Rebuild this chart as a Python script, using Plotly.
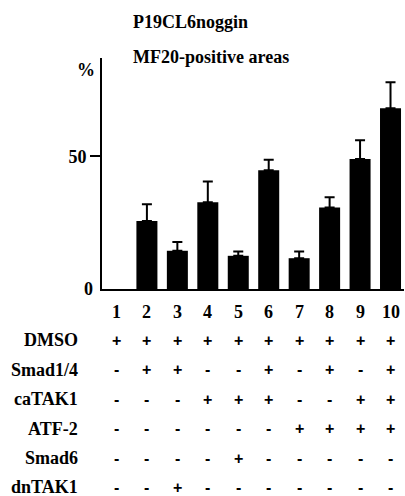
import plotly.graph_objects as go

lanes = [1, 2, 3, 4, 5, 6, 7, 8, 9, 10]
values = [0, 25.6, 14.4, 32.7, 12.5, 44.7, 11.6, 30.7, 49.0, 68.1]
err_up = [None, 6.3, 3.3, 7.8, 1.6, 4.0, 2.5, 3.9, 7.0, 9.8]
ytick_vals = [0, 50]
ytick_text = ["0", "50"]
conditions = ["DMSO", "Smad1/4", "caTAK1", "ATF-2", "Smad6", "dnTAK1"]
DMSO = ["+", "+", "+", "+", "+", "+", "+", "+", "+", "+"]
Smad14 = ["-", "+", "+", "-", "-", "+", "-", "+", "-", "+"]
caTAK1 = ["-", "-", "-", "+", "+", "+", "-", "-", "+", "+"]
ATF2 = ["-", "-", "-", "-", "-", "-", "+", "+", "+", "+"]
Smad6 = ["-", "-", "-", "-", "+", "-", "-", "-", "-", "-"]
dnTAK1 = ["-", "-", "+", "-", "-", "-", "-", "-", "-", "-"]
signs = [DMSO, Smad14, caTAK1, ATF2, Smad6, dnTAK1]
title1 = "P19CL6noggin"
title2 = "MF20-positive areas"

W, H = 405, 496
ML, MR, MT, MB = 102, 1, 58, 207
PW, PH = W - ML - MR, H - MT - MB
FONT = "Liberation Serif"
FS = 18


def px_y(ypx):
    return (H - MB - ypx) / PH


def px_x(xpx):
    return (xpx - ML) / PW


# lanes with a zero value draw no bar (nothing visible in the reference)
bar_y = [v if v else None for v in values]

fig = go.Figure()
fig.add_trace(go.Bar(
    x=lanes, y=bar_y,
    marker=dict(color="black", line=dict(width=0)),
    error_y=dict(type="data", array=err_up, arrayminus=[0 if e is not None else None for e in err_up],
                 symmetric=False, color="black", thickness=2, width=5),
    width=0.69,
))

ann = []
font = dict(family=FONT, size=FS, color="black", weight="bold")
sfont = dict(family="Liberation Sans", size=16, color="black", weight="bold")
ann.append(dict(text=title1, xref="paper", yref="paper", x=px_x(131), y=px_y(22),
                xanchor="left", yanchor="middle", showarrow=False, font=font))
ann.append(dict(text=title2, xref="paper", yref="paper", x=px_x(131), y=px_y(57),
                xanchor="left", yanchor="middle", showarrow=False, font=font))
ann.append(dict(text="%", xref="paper", yref="paper", x=px_x(97), y=px_y(70),
                xanchor="right", yanchor="middle", showarrow=False, font=font))
ann.append(dict(text=ytick_text[0], xref="paper", yref="y", x=px_x(95), y=ytick_vals[0],
                xanchor="right", yanchor="middle", showarrow=False, font=font))
for ln in lanes:
    ann.append(dict(text=str(ln), xref="x", yref="paper", x=ln, y=px_y(312),
                    xanchor="center", yanchor="middle", showarrow=False, font=font))
row_y = [340, 369.5, 399, 428.5, 458, 487]
for r, cond in enumerate(conditions):
    ann.append(dict(text=cond, xref="paper", yref="paper", x=px_x(80), y=px_y(row_y[r]),
                    xanchor="right", yanchor="middle", showarrow=False, font=font))
    for j, ln in enumerate(lanes):
        ann.append(dict(text=signs[r][j], xref="x", yref="paper", x=ln, y=px_y(row_y[r]),
                        xanchor="center", yanchor="middle", showarrow=False, font=sfont))

fig.update_layout(
    width=W, height=H,
    margin=dict(l=ML, r=MR, t=MT, b=MB, pad=0),
    paper_bgcolor="white", plot_bgcolor="white",
    showlegend=False,
    annotations=ann,
    xaxis=dict(range=[0.525, 0.525 + PW / 30.45], showline=True, linecolor="black",
               linewidth=2, showgrid=False, zeroline=False, showticklabels=False,
               ticks="", fixedrange=True),
    yaxis=dict(range=[0, 87], showline=True, linecolor="black", linewidth=2,
               showgrid=False, zeroline=False, tickvals=ytick_vals[1:],
               ticktext=ytick_text[1:], ticks="outside", ticklen=10, tickwidth=1.5,
               tickcolor="black", tickfont=font, fixedrange=True),
)

fig.write_html("out.html", config={"displayModeBar": False},
               post_script="document.body.style.margin='0px';document.body.style.overflow='hidden';")
